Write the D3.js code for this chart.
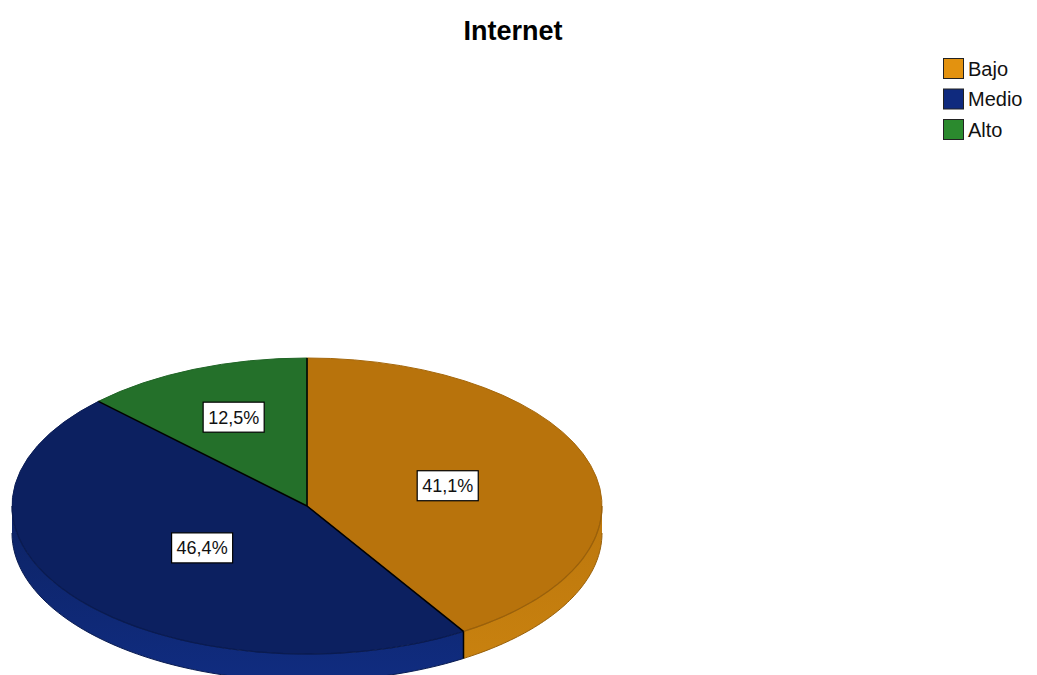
<!DOCTYPE html>
<html>
<head>
<meta charset="utf-8">
<script src="https://cdn.jsdelivr.net/npm/d3@7"></script>
<style>
  html, body { margin: 0; padding: 0; background: #fff; }
  svg { display: block; }
</style>
</head>
<body>
<script>
// ---- data ----
const categories = ["Bajo", "Medio", "Alto"];
const values = [41.1, 46.4, 12.5];
const labels = ["41,1%", "46,4%", "12,5%"];
const topColors = ["#B8730C", "#0C2060", "#24702A"];
const sideColorsTop = ["#BC770D", "#0D2364", "#26742C"];
const sideColorsBottom = ["#C8810F", "#102C80", "#2C8032"];
const legendColors = ["#E3920F", "#0F2A7E", "#2B8A2E"];
const chartTitle = "Internet";

// ---- layout ----
const W = 1037, H = 675;
const cx = 307, cy = 506, rx = 295, ry = 148, depth = 27;

const svg = d3.select("body").append("svg").attr("width", W).attr("height", H);
const defs = svg.append("defs");
categories.forEach((c, i) => {
  const lg = defs.append("linearGradient").attr("id", "side" + i)
    .attr("x1", 0).attr("y1", 0).attr("x2", 0).attr("y2", 1);
  lg.append("stop").attr("offset", "0%").attr("stop-color", sideColorsTop[i]);
  lg.append("stop").attr("offset", "100%").attr("stop-color", sideColorsBottom[i]);
});

svg.append("text")
  .attr("x", 513).attr("y", 40)
  .attr("text-anchor", "middle")
  .attr("font-family", "Arial, 'Liberation Sans', sans-serif")
  .attr("font-weight", "bold")
  .attr("font-size", 27)
  .text(chartTitle);

const pieData = d3.pie().sort(null).value(d => d)(values);

const px = a => cx + rx * Math.sin(a);
const py = a => cy - ry * Math.cos(a);

// side walls (visible front half: angles between PI/2 and 3PI/2)
const sideG = svg.append("g");
pieData.forEach((s, i) => {
  const a = Math.max(s.startAngle, Math.PI / 2);
  const b = Math.min(s.endAngle, 3 * Math.PI / 2);
  if (b <= a) return;
  const n = 60;
  const angs = d3.range(n + 1).map(k => a + (b - a) * k / n);
  const topPts = angs.map(t => [px(t), py(t)]);
  const botPts = angs.slice().reverse().map(t => [px(t), py(t) + depth]);
  sideG.append("path")
    .attr("d", d3.line()(topPts.concat(botPts)) + "Z")
    .attr("fill", `url(#side${i})`)
    .attr("stroke", "none");
  // darker outer silhouette line along bottom edge
  sideG.append("path")
    .attr("d", d3.line()(botPts))
    .attr("fill", "none")
    .attr("stroke", d3.color(sideColorsTop[i]).darker(0.6))
    .attr("stroke-width", 1);
});

// top faces
const arcGen = d3.arc().innerRadius(0).outerRadius(rx);
const topG = svg.append("g").attr("transform", `translate(${cx},${cy}) scale(1,${ry / rx})`);
topG.selectAll("path").data(pieData).enter().append("path")
  .attr("d", arcGen)
  .attr("fill", (d, i) => topColors[i])
  .attr("stroke", (d, i) => d3.color(topColors[i]).darker(0.3))
  .attr("stroke-width", 1)
  .attr("vector-effect", "non-scaling-stroke");

// subtle edge between top face and side
pieData.forEach((s, i) => {
  const a = Math.max(s.startAngle, Math.PI / 2);
  const b = Math.min(s.endAngle, 3 * Math.PI / 2);
  if (b <= a) return;
  const angs = d3.range(41).map(k => a + (b - a) * k / 40);
  svg.append("path")
    .attr("d", d3.line()(angs.map(t => [px(t), py(t)])))
    .attr("fill", "none")
    .attr("stroke", d3.color(topColors[i]).darker(0.5))
    .attr("stroke-width", 1.2);
});

// radial divider lines
pieData.forEach((s, i) => {
  const a = s.startAngle;
  svg.append("line")
    .attr("x1", cx).attr("y1", cy)
    .attr("x2", px(a)).attr("y2", py(a))
    .attr("stroke", "#000").attr("stroke-width", 1.5);
  if (a > Math.PI / 2 && a < 3 * Math.PI / 2) {
    svg.append("line")
      .attr("x1", px(a)).attr("y1", py(a))
      .attr("x2", px(a)).attr("y2", py(a) + depth)
      .attr("stroke", "#000").attr("stroke-width", 1.5);
  }
});

// labels at sector centroids
pieData.forEach((s, i) => {
  const alpha = s.endAngle - s.startAngle;
  const f = 4 * Math.sin(alpha / 2) / (3 * alpha);
  const mid = (s.startAngle + s.endAngle) / 2;
  const lx = cx + rx * f * Math.sin(mid);
  const ly = cy - ry * f * Math.cos(mid);
  const lg = svg.append("g").attr("transform", `translate(${lx},${ly})`);
  const rect = lg.append("rect");
  const t = lg.append("text")
    .attr("text-anchor", "middle")
    .attr("dy", "0.36em")
    .attr("font-family", "Arial, 'Liberation Sans', sans-serif")
    .attr("font-size", 18)
    .attr("fill", "#111")
    .text(labels[i]);
  const bb = t.node().getBBox();
  const w = bb.width + 10, h = 30;
  rect.attr("x", -w / 2).attr("y", -h / 2).attr("width", w).attr("height", h)
    .attr("fill", "#fff").attr("stroke", "#000").attr("stroke-width", 1.2);
});

// legend
const leg = svg.append("g").attr("transform", "translate(943,58)");
categories.forEach((c, i) => {
  const row = leg.append("g").attr("transform", `translate(0,${i * 30.5})`);
  row.append("rect").attr("x", 0.5).attr("y", 0.5).attr("width", 20).attr("height", 20)
    .attr("fill", legendColors[i]).attr("stroke", "#222").attr("stroke-width", 1);
  row.append("text")
    .attr("x", 25).attr("y", 10.5).attr("dy", "0.36em")
    .attr("font-family", "Arial, 'Liberation Sans', sans-serif")
    .attr("font-size", 20)
    .attr("fill", "#111")
    .text(c);
});
</script>
</body>
</html>
